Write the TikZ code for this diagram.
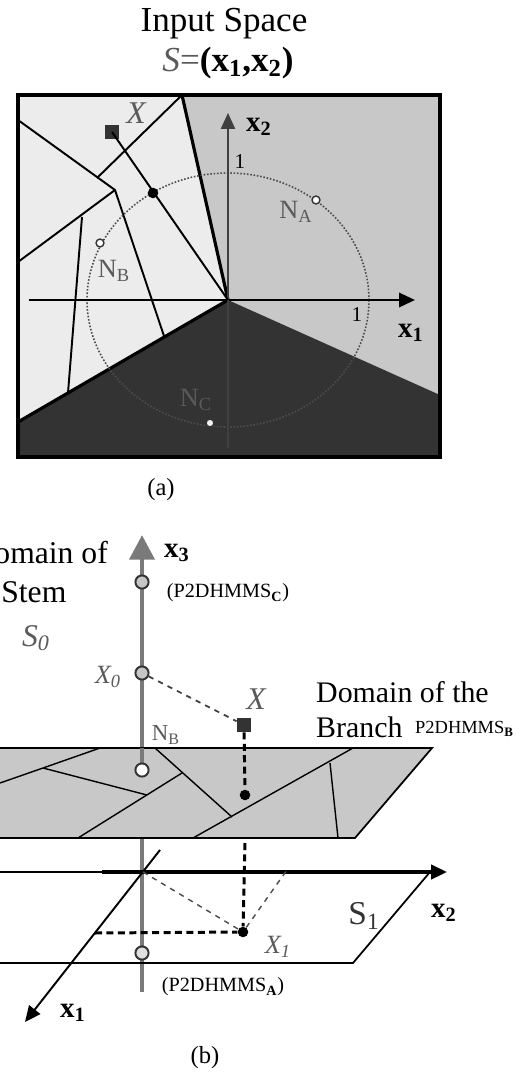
\documentclass[tikz,border=0pt]{standalone}
\usepackage{fontspec}
\setmainfont{Liberation Serif}
\usetikzlibrary{arrows.meta}
\definecolor{lightreg}{HTML}{ECECEC}
\definecolor{midreg}{HTML}{C8C8C8}
\definecolor{darkreg}{HTML}{333333}
\definecolor{stemgray}{HTML}{7A7A7A}
\definecolor{labgray}{HTML}{5A5A5A}
\newcommand{\fs}[1]{\fontsize{#1}{#1}\selectfont}
\tikzset{
  blackpt/.style={circle, fill=black, inner sep=0pt, minimum size=6pt},
  openpt/.style={circle, draw=darkreg, fill=white, line width=0.8pt, inner sep=0pt, minimum size=4.5pt},
  stempt/.style={circle, draw=darkreg, fill=#1, line width=1.1pt, inner sep=0pt, minimum size=7.5pt},
  sqpt/.style={rectangle, fill=darkreg, inner sep=0pt, minimum size=8pt},
  thinline/.style={line width=1.1pt},
  bound/.style={line width=1.8pt},
  lab/.style={inner sep=1pt, text=labgray},
  axlab/.style={inner sep=1pt, font=\fs{16.5}\bfseries}
}
\begin{document}
\begin{tikzpicture}[x=0.02cm, y=-0.02cm, >={Triangle[length=9pt, width=8pt]}]
\useasboundingbox (0,0) rectangle (516,1072);

% ---- (a) input space
\node[font=\fs{20}] (title) at (224,24) {Input Space};
\node[font=\fs{20}] (stitle) at (228,63) {\textcolor{labgray}{\textit{S}=}\textbf{(x\textsubscript{1},x\textsubscript{2})}};

\coordinate (O) at (228,300);
\fill[lightreg] (18,95) rectangle (440,457);
\fill[midreg] (182,95) -- (440,95) -- (440,395) -- (O) -- cycle;
\fill[darkreg] (18,422) -- (O) -- (440,395) -- (440,457) -- (18,457) -- cycle;
\draw[bound] (182,95) -- (O);
\draw[bound] (18,422) -- (O);
\draw[line width=2pt] (18,95) rectangle (440,457);

\draw[thinline] (18,120) -- (115,190) -- (164,336);
\draw[thinline] (18,262) -- (115,190);
\draw[thinline] (97,178) -- (182,95);
\draw[thinline] (82,217) -- (68,393);

\draw[gray!60!black, densely dotted, line width=0.9pt] (O) ellipse [x radius=141, y radius=127];

\draw[->, line width=1.6pt] (29,300) -- (415,300);
\draw[->, line width=1pt, black!75] (228,448) -- (228,113);
\node[axlab] (x1a) at (411,333) {x\textsubscript{1}};
\node[axlab] (x2a) at (259,127) {x\textsubscript{2}};
\node[font=\fs{12}] (onex) at (357,315) {1};
\node[font=\fs{12}] (oney) at (240,162) {1};

\node[sqpt] (Xa) at (112,132) {};
\node[lab, font=\fs{18}\itshape] (Xalab) at (136,113) {X};
\draw[thinline] (Xa.center) -- (O);
\node[blackpt] (Pa) at (153,193) {};

\node[openpt] (NA) at (316,200) {};
\node[lab, font=\fs{15}] (NAlab) at (296,212) {N\textsubscript{A}};
\node[openpt] (NB) at (100,243) {};
\node[lab, font=\fs{15}] (NBlab) at (114,271) {N\textsubscript{B}};
\node[openpt, fill=white!90!gray] (NC) at (210,423) {};
\node[lab, font=\fs{15}] (NClab) at (196,400) {N\textsubscript{C}};

\node[font=\fs{14}] (capa) at (161,490) {(a)};

% ---- (b) stem and branch
\coordinate (stembot) at (142,992);
\coordinate (stemtop) at (142,535);
\draw[->, stemgray, line width=2.8pt, >={Triangle[length=14pt, width=14pt]}] (stembot) -- (stemtop);

\fill[midreg] (-40,748) -- (432,748) -- (355,838) -- (-40,838) -- cycle;
\draw[line width=1pt] (-40,748) -- (432,748) -- (355,838) -- (-40,838);
\draw[stemgray, line width=2.8pt] (142,748) -- (142,770);

\draw[line width=0.8pt] (0,783) -- (43,768) -- (100,748);
\draw[line width=0.8pt] (43,768) -- (147,795);
\draw[line width=0.8pt] (78,838) -- (182,773);
\draw[line width=0.8pt] (155,748) -- (232,817);
\draw[line width=0.8pt] (193,838) -- (353,748);
\draw[line width=0.8pt] (330,763) -- (338,838);

\draw[line width=1pt] (-10,872) -- (430,872) -- (353,963) -- (-10,963);
\coordinate (O1) at (143,872);
\draw[->, line width=2pt] (102,872) -- (447,872);
\draw[->, line width=1.1pt] (160,850) -- (25,1022);

\node[sqpt] (Xb) at (244,725) {};
\node[blackpt] (Xbd) at (245,795) {};
\node[blackpt] (X1) at (243,932) {};
\coordinate (xaxfoot) at (95,933);
\coordinate (x2foot) at (287,870);

\draw[dashed, line width=1.7pt, dash pattern=on 4pt off 2.5pt] (Xb) -- (Xbd);
\draw[dashed, line width=1.7pt, dash pattern=on 4pt off 2.5pt] (245,843) -- (X1);
\draw[dashed, line width=1.7pt, dash pattern=on 4pt off 2.5pt] (xaxfoot) -- (X1);
\draw[dashed, line width=0.8pt, black!70] (O1) -- (X1);
\draw[dashed, line width=0.8pt, black!70] (X1) -- (x2foot);

\node[stempt=gray!45] (SC) at (142,582) {};
\node[stempt=gray!45] (X0) at (142,673) {};
\node[stempt=white] (NBb) at (142,770) {};
\node[stempt=gray!25] (SA) at (142,953) {};
\draw[dashed, line width=1pt, black!75] (X0) -- (Xb);

\node[font=\fs{18}, anchor=east] (dom) at (114,553) {Domain of};
\node[font=\fs{18}, anchor=west, inner sep=0pt] (stem) at (1,592) {Stem};
\node[font=\fs{18}\itshape, text=labgray] (S0) at (36,638) {S\textsubscript{0}};
\node[axlab] (x3b) at (177,553) {x\textsubscript{3}};
\node[font=\fs{11.5}] (PC) at (228,593) {(P2DHMMS\textsubscript{\textbf{C}})};
\node[lab, font=\fs{15}\itshape] (X0lab) at (108,677) {X\textsubscript{0}};
\node[lab, font=\fs{18}\itshape] (Xblab) at (256,699) {X};
\node[font=\fs{17}, anchor=west] (domb) at (310,692) {Domain of the};
\node[font=\fs{17}, anchor=west] (branch) at (310,727) {Branch};
\node[font=\fs{10.5}, anchor=west] (PB) at (409,729) {P2DHMMS\textsubscript{\textbf{B}}};
\node[lab, font=\fs{13}] (NBblab) at (166,735) {N\textsubscript{B}};
\node[font=\fs{19}, text=black!80] (S1) at (364,916) {S\textsubscript{1}};
\node[axlab] (x2b) at (444,913) {x\textsubscript{2}};
\node[axlab] (x1b) at (73,1013) {x\textsubscript{1}};
\node[lab, font=\fs{15}\itshape] (X1lab) at (278,947) {X\textsubscript{1}};
\node[font=\fs{11.5}] (PA) at (223,987) {(P2DHMMS\textsubscript{\textbf{A}})};
\node[font=\fs{14}] (capb) at (205,1058) {(b)};
\end{tikzpicture}
\end{document}
